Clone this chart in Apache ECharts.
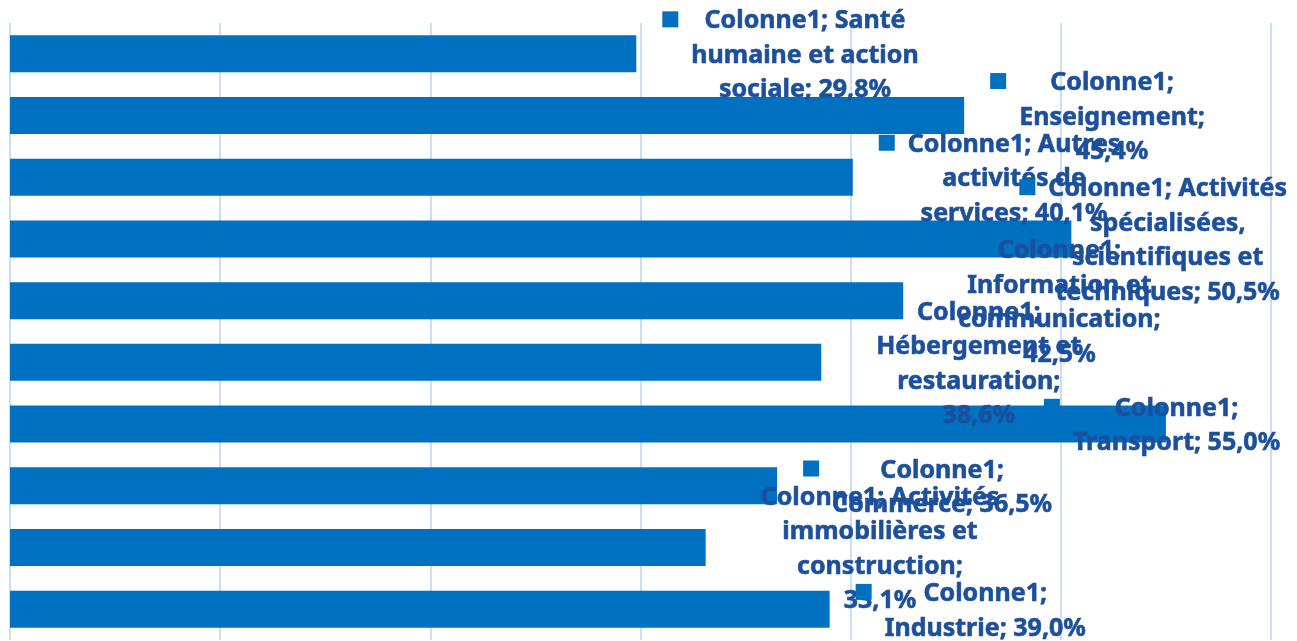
<!DOCTYPE html>
<html>
<head>
<meta charset="utf-8">
<script src="https://cdn.jsdelivr.net/npm/echarts@6/dist/echarts.min.js"></script>
<style>
html,body{margin:0;padding:0;background:#fff;}
#chart{width:1297px;height:641px;}
</style>
</head>
<body>
<div id="chart"></div>
<script>
const seriesName = 'Colonne1';
const categories = [
  'Santé humaine et action sociale',
  'Enseignement',
  'Autres activités de services',
  'Activités spécialisées, scientifiques et techniques',
  'Information et communication',
  'Hébergement et restauration',
  'Transport',
  'Commerce',
  'Activités immobilières et construction',
  'Industrie'
];
const values = [29.8, 45.4, 40.1, 50.5, 42.5, 38.6, 55.0, 36.5, 33.1, 39.0];
// how each data label is wrapped in the reference
const labelLines = [
  ['Colonne1; Santé', 'humaine et action', 'sociale; 29,8%'],
  ['Colonne1;', 'Enseignement;', '45,4%'],
  ['Colonne1; Autres', 'activités de', 'services; 40,1%'],
  ['Colonne1; Activités', 'spécialisées,', 'scientifiques et', 'techniques; 50,5%'],
  ['Colonne1;', 'Information et', 'communication;', '42,5%'],
  ['Colonne1;', 'Hébergement et', 'restauration;', '38,6%'],
  ['Colonne1;', 'Transport; 55,0%'],
  ['Colonne1;', 'Commerce; 36,5%'],
  ['Colonne1; Activités', 'immobilières et', 'construction;', '33,1%'],
  ['Colonne1;', 'Industrie; 39,0%']
];
const xTicks = [0, 10, 20, 30, 40, 50, 60];

const BAR = '#0070C0';
const TXT = '#1C4F9C';
const LH = 34.5;

// labels that were pushed left to stay inside the chart
const labelShift = [0, 0, 0, -78, 0, 0, -148, 0, 0, 0];

const chart = echarts.init(document.getElementById('chart'));
chart.setOption({
  animation: false,
  grid: { left: 10, right: 26, top: 23, bottom: 1, containLabel: false },
  xAxis: {
    type: 'value', min: xTicks[0], max: xTicks[xTicks.length - 1], interval: 10,
    axisLabel: { show: false }, axisTick: { show: false }, axisLine: { show: false },
    splitLine: { show: true, lineStyle: { color: '#CADEF6', width: 2 } }
  },
  yAxis: {
    type: 'category', data: categories, inverse: true,
    axisLabel: { show: false }, axisTick: { show: false }, axisLine: { show: false }
  },
  series: [{
    name: seriesName,
    type: 'bar',
    barCategoryGap: '40%',
    itemStyle: { color: BAR },
    data: values.map((v, i) => ({
      value: v,
      label: { offset: [labelShift[i], 0] }
    })),
    label: {
      show: true,
      position: 'right',
      distance: 26,
      lineHeight: LH,
      formatter: function (p) {
        const lines = labelLines[p.dataIndex];
        return lines.map((l, k) => (k === 0 ? '{sq|}{g1|}' : '{g|}') + '{t|' + l + '}{g|}').join('\n');
      },
      rich: {
        sq: { width: 16, height: 16, backgroundColor: BAR, align: 'left', lineHeight: LH },
        g1: { width: 13, align: 'left', lineHeight: LH },
        g: { width: 29, align: 'center', lineHeight: LH },
        t: {
          align: 'center', color: TXT, fontFamily: 'Noto Sans', fontWeight: 'bold',
          fontSize: 25, lineHeight: LH, padding: [4, 0, 0, 0],
          textBorderColor: TXT, textBorderWidth: 0.6
        }
      }
    }
  }]
});
</script>
</body>
</html>
